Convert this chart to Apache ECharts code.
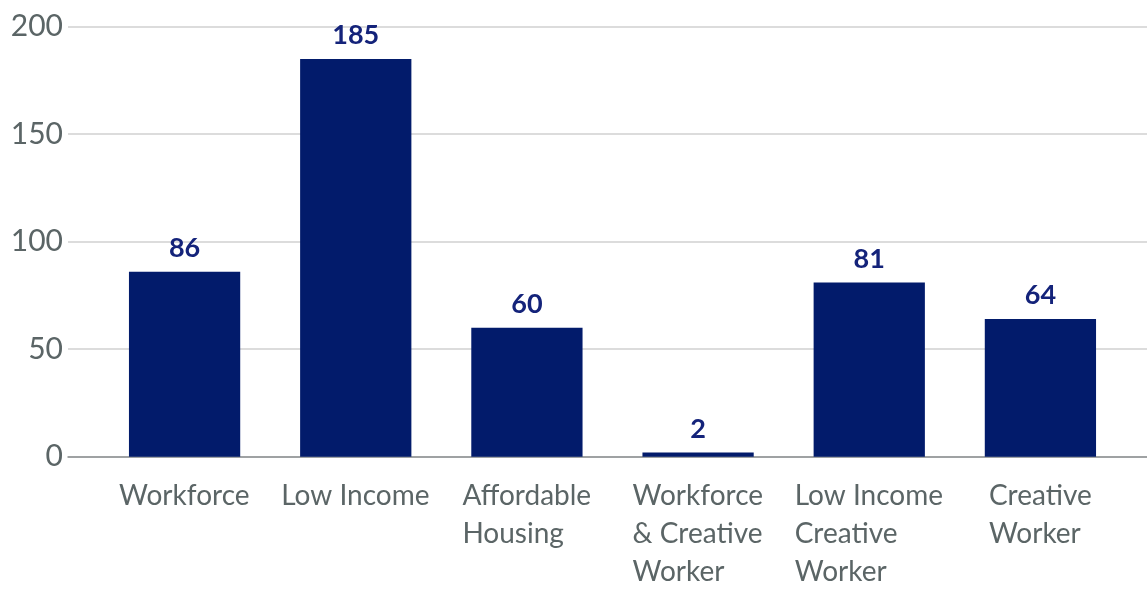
<!DOCTYPE html>
<html>
<head>
<meta charset="utf-8">
<script src="https://cdn.jsdelivr.net/npm/echarts@6/dist/echarts.min.js"></script>
<style>
html,body{margin:0;padding:0;background:#fff;}
#chart{width:1147px;height:589px;}
</style>
</head>
<body>
<div id="chart"></div>
<script>
const categories = ['Workforce', 'Low Income', 'Affordable\nHousing', 'Workforce\n& Creative\nWorker', 'Low Income\nCreative\nWorker', 'Creative\nWorker'];
const values = [86, 185, 60, 2, 81, 64];
const yTicks = { min: 0, max: 200, interval: 50 };

const FONT = 'Lato';
const X_SIZE = 28;
// measure label blocks so multi-line labels are left-aligned inside a centered block
const ctx = document.createElement('canvas').getContext('2d');
ctx.font = X_SIZE + 'px ' + FONT;
const rich = {};
categories.forEach((c, i) => {
  const w = Math.max(...c.split('\n').map(s => ctx.measureText(s).width));
  rich['r' + i] = { width: Math.ceil(w), align: 'left', fontSize: X_SIZE, fontFamily: FONT, color: '#5b6566', lineHeight: 38 };
});

const chart = echarts.init(document.getElementById('chart'));
chart.setOption({
  animation: false,
  backgroundColor: '#fff',
  grid: [
    { left: 68, right: 0, top: 26.7, bottom: 132.3, outerBoundsMode: 'none', containLabel: false },
    { left: 99, right: 21, top: 26.7, bottom: 132.3, outerBoundsMode: 'none', containLabel: false }
  ],
  xAxis: [
    { gridIndex: 0, type: 'category', data: categories, axisLabel: { show: false }, axisTick: { show: false },
      axisLine: { show: true, lineStyle: { color: '#8a8f90', width: 1.5 } } },
    { gridIndex: 1, type: 'category', data: categories, axisTick: { show: false }, axisLine: { show: false },
      axisLabel: {
        interval: 0, margin: 20, fontSize: X_SIZE, fontFamily: FONT, color: '#5b6566', lineHeight: 38,
        formatter: (v, i) => v.split('\n').map(s => '{r' + i + '|' + s + '}').join('\n'),
        rich: rich
      } }
  ],
  yAxis: [
    { gridIndex: 0, type: 'value', min: yTicks.min, max: yTicks.max, interval: yTicks.interval,
      axisLine: { show: false }, axisTick: { show: false },
      axisLabel: { margin: 5, fontSize: 30, fontFamily: FONT, color: '#5b6566' },
      splitLine: { lineStyle: { color: '#dcdcdc', width: 2 } } },
    { gridIndex: 1, type: 'value', min: yTicks.min, max: yTicks.max, interval: yTicks.interval, show: false,
      splitLine: { show: false } }
  ],
  series: [{
    type: 'bar', xAxisIndex: 1, yAxisIndex: 1, data: values, barCategoryGap: '35%',
    itemStyle: { color: '#021b6b' },
    label: { show: true, position: 'top', distance: 10, fontSize: 27, fontWeight: 'bold', fontFamily: FONT, color: '#14237a' }
  }]
});
</script>
</body>
</html>
